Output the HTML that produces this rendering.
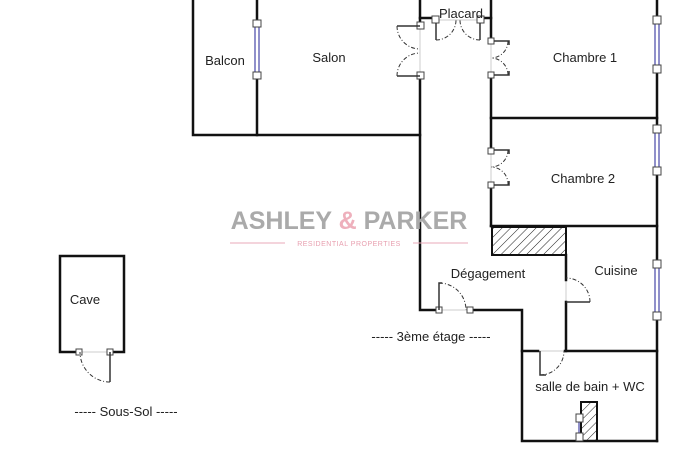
<!DOCTYPE html>
<html><head><meta charset="utf-8"><style>
html,body{margin:0;padding:0;background:#fff;}
svg{display:block;}
text{font-family:"Liberation Sans","DejaVu Sans",sans-serif;fill:#222;}
</style></head><body>
<svg width="700" height="450" viewBox="0 0 700 450" xmlns="http://www.w3.org/2000/svg">
<defs>
<pattern id="h" width="6" height="6" patternUnits="userSpaceOnUse" patternTransform="rotate(45)">
<line x1="0" y1="0" x2="0" y2="6" stroke="#222" stroke-width="1"/>
</pattern>
</defs>
<!-- gap lines -->
<g stroke="#ccc" stroke-width="1">
<line x1="420" y1="25" x2="420" y2="75"/><line x1="439" y1="310" x2="470" y2="310"/>
<line x1="538" y1="351" x2="565" y2="351"/><line x1="566" y1="280" x2="566" y2="302"/>
<line x1="79" y1="352" x2="110" y2="352"/><line x1="491" y1="41" x2="491" y2="75"/>
<line x1="491" y1="150" x2="491" y2="185"/><line x1="436" y1="20" x2="480" y2="20"/>
</g>
<g stroke="#111" stroke-width="2.5" fill="none" stroke-linecap="square">
<path d="M193 0 V135 H420"/>
<path d="M257 0 V23 M257 75 V135"/>
<path d="M420 0 V25 M420 75 V310 H439"/>
<path d="M420 18 H436 M480 18 H491"/>
<path d="M491 0 V41 M491 75 V150 M491 185 V226"/>
<path d="M491 118 H657"/>
<path d="M657 0 V20 M657 69 V129 M657 171 V264 M657 316 V441"/>
<path d="M491 226 H657"/>
<path d="M566 255 V280 M566 302 V351"/>
<path d="M470 310 H522 V441 H657"/>
<path d="M522 351 H538 M565 351 H657"/>
<path d="M79 352 H60 V256 H124 V352 H110"/>
</g>
<rect x="492" y="227" width="74" height="28" fill="url(#h)" stroke="#111" stroke-width="2"/>
<rect x="581" y="402" width="16" height="39" fill="url(#h)" stroke="#111" stroke-width="2"/>
<g stroke="#6a6ab8" stroke-width="1.5">
<line x1="255" y1="23" x2="255" y2="75"/><line x1="259" y1="23" x2="259" y2="75"/>
<line x1="655" y1="20" x2="655" y2="69"/><line x1="659" y1="20" x2="659" y2="69"/>
<line x1="655" y1="129" x2="655" y2="171"/><line x1="659" y1="129" x2="659" y2="171"/>
<line x1="655" y1="264" x2="655" y2="316"/><line x1="659" y1="264" x2="659" y2="316"/>
<line x1="579" y1="418" x2="579" y2="437"/>
</g>
<g fill="#fff" stroke="#444" stroke-width="1">
<rect x="253" y="20" width="8" height="7"/><rect x="253" y="72" width="8" height="7"/>
<rect x="653" y="16" width="8" height="8"/><rect x="653" y="65" width="8" height="8"/>
<rect x="653" y="125" width="8" height="8"/><rect x="653" y="167" width="8" height="8"/>
<rect x="653" y="260" width="8" height="8"/><rect x="653" y="312" width="8" height="8"/>
<rect x="576" y="414" width="7" height="8"/><rect x="576" y="433" width="7" height="8"/>
<rect x="417" y="22" width="7" height="7"/><rect x="417" y="72" width="7" height="7"/>
<rect x="432" y="16" width="7" height="7"/><rect x="477" y="16" width="7" height="7"/>
<rect x="488" y="38" width="6" height="6"/><rect x="488" y="72" width="6" height="6"/>
<rect x="488" y="148" width="6" height="6"/><rect x="488" y="182" width="6" height="6"/>
<rect x="436" y="307" width="6" height="6"/><rect x="467" y="307" width="6" height="6"/>
<rect x="76" y="349" width="6" height="6"/><rect x="107" y="349" width="6" height="6"/>
</g>
<g stroke="#333" stroke-width="1.5" fill="none">
<path d="M420 26 H397 M420 76 H397"/>
<path d="M436 23 V40 M480 23 V40"/>
<path d="M494 41 H509 V45 M494 75 H509 V71"/>
<path d="M494 150 H509 V154 M494 185 H509 V181"/>
<path d="M439 310 V283 H442"/>
<path d="M566 302 H590"/>
<path d="M540 351 V375 H546"/>
<path d="M110 352 V382"/>
</g>
<g stroke="#333" stroke-width="1" fill="none" stroke-dasharray="4,2,1,2">
<path d="M397 26 A23 23 0 0 0 420 49"/>
<path d="M397 76 A23 23 0 0 1 420 53"/>
<path d="M436 40 A20 20 0 0 0 456 20"/>
<path d="M480 40 A20 20 0 0 1 460 20"/>
<path d="M508 41 A17 17 0 0 1 491 58"/>
<path d="M508 75 A17 17 0 0 0 491 58"/>
<path d="M508 150 A17 17 0 0 1 491 167"/>
<path d="M508 185 A17 17 0 0 0 491 167"/>
<path d="M439 283 A27 27 0 0 1 466 310"/>
<path d="M590 302 A24 24 0 0 0 566 278"/>
<path d="M540 375 A24 24 0 0 0 564 351"/>
<path d="M110 382 A30 30 0 0 1 80 352"/>
</g>
<text x="349" y="229" text-anchor="middle" font-size="25" font-weight="bold" style="fill:#aaa">ASHLEY <tspan style="fill:#eeb0bc">&amp;</tspan> PARKER</text>
<line x1="230" y1="243" x2="285" y2="243" stroke="#e8aab8" stroke-width="1"/>
<line x1="413" y1="243" x2="468" y2="243" stroke="#e8aab8" stroke-width="1"/>
<text x="349" y="246" text-anchor="middle" font-size="7" style="fill:#e8a0b0" letter-spacing="0.5">RESIDENTIAL  PROPERTIES</text>
<g font-size="13">
<text x="225" y="65" text-anchor="middle">Balcon</text>
<text x="329" y="62" text-anchor="middle">Salon</text>
<text x="461" y="18" text-anchor="middle">Placard</text>
<text x="585" y="62" text-anchor="middle">Chambre 1</text>
<text x="583" y="183" text-anchor="middle">Chambre 2</text>
<text x="488" y="278" text-anchor="middle">Dégagement</text>
<text x="616" y="275" text-anchor="middle">Cuisine</text>
<text x="590" y="391" text-anchor="middle">salle de bain + WC</text>
<text x="431" y="341" text-anchor="middle">-----  3ème étage  -----</text>
<text x="85" y="304" text-anchor="middle">Cave</text>
<text x="126" y="416" text-anchor="middle">-----  Sous-Sol  -----</text>
</g>
</svg>
</body></html>
